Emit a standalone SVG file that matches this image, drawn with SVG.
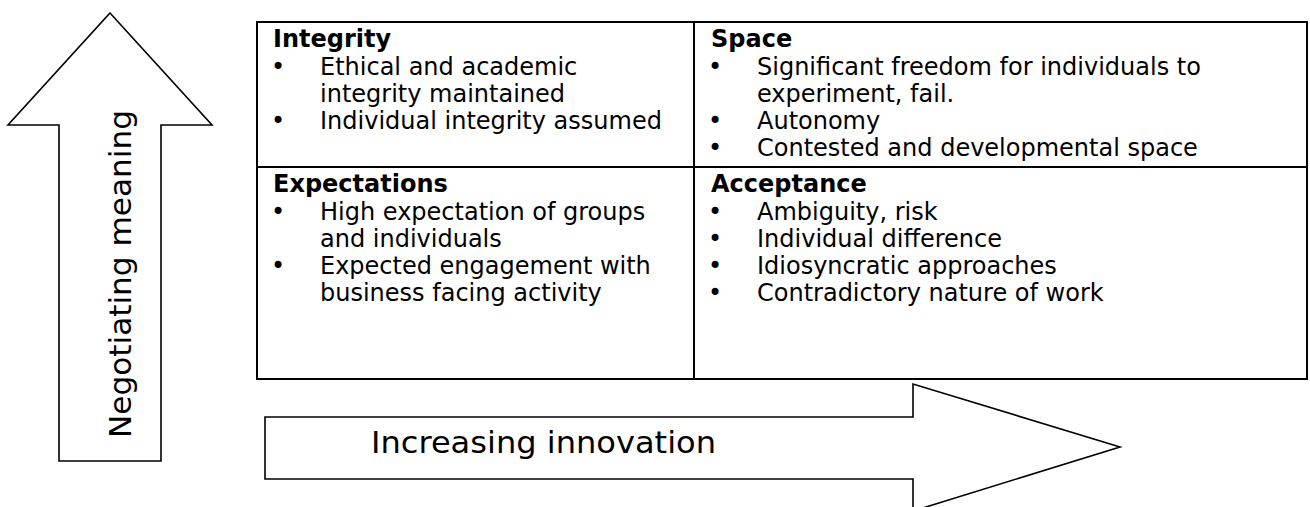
<svg xmlns="http://www.w3.org/2000/svg" width="1310" height="507" viewBox="0 0 1310 507">
<style>
.t{font-family:"DejaVu Sans",Verdana,sans-serif;font-size:24px;fill:#000}
.h{font-weight:bold}
.ar{fill:#fff;stroke:#000;stroke-width:1.6}
.ln{stroke:#000;stroke-width:2;fill:none}
.big{font-family:"DejaVu Sans",Verdana,sans-serif;font-size:31px;fill:#000}
</style>
<rect width="1310" height="507" fill="#fff"/>
<g id="connectors">
<polygon class="ar" points="110,13 212,125 161,125 161,461 59,461 59,125 8,125"/>
<polygon class="ar" points="265,417 913,417 913,384 1120,447 913,511 913,479 265,479"/>
</g>
<g id="axis-y"><text class="big" transform="translate(131,438) rotate(-90)" textLength="328" lengthAdjust="spacingAndGlyphs">Negotiating meaning</text></g>
<g id="axis-x"><text class="big" x="371" y="453" textLength="345" lengthAdjust="spacingAndGlyphs">Increasing innovation</text></g>
<g id="grid">
<rect class="ln" x="257" y="22" width="1050" height="357"/>
<line class="ln" x1="694" y1="22" x2="694" y2="379"/>
<line class="ln" x1="257" y1="167" x2="1307" y2="167"/>
</g>
<g id="integrity">
<text class="t h" x="273" y="47">Integrity</text>
<text class="t" x="271" y="75">•</text><text class="t" x="320" y="75">Ethical and academic</text>
<text class="t" x="320" y="102">integrity maintained</text>
<text class="t" x="271" y="129">•</text><text class="t" x="320" y="129">Individual integrity assumed</text>
</g>
<g id="space">
<text class="t h" x="711" y="47">Space</text>
<text class="t" x="708" y="75">•</text><text class="t" x="757" y="75">Significant freedom for individuals to</text>
<text class="t" x="757" y="102">experiment, fail.</text>
<text class="t" x="708" y="129">•</text><text class="t" x="757" y="129">Autonomy</text>
<text class="t" x="708" y="156">•</text><text class="t" x="757" y="156">Contested and developmental space</text>
</g>
<g id="expectations">
<text class="t h" x="273" y="192">Expectations</text>
<text class="t" x="271" y="220">•</text><text class="t" x="320" y="220">High expectation of groups</text>
<text class="t" x="320" y="247">and individuals</text>
<text class="t" x="271" y="274">•</text><text class="t" x="320" y="274">Expected engagement with</text>
<text class="t" x="320" y="301">business facing activity</text>
</g>
<g id="acceptance">
<text class="t h" x="711" y="192">Acceptance</text>
<text class="t" x="708" y="220">•</text><text class="t" x="757" y="220">Ambiguity, risk</text>
<text class="t" x="708" y="247">•</text><text class="t" x="757" y="247">Individual difference</text>
<text class="t" x="708" y="274">•</text><text class="t" x="757" y="274">Idiosyncratic approaches</text>
<text class="t" x="708" y="301">•</text><text class="t" x="757" y="301">Contradictory nature of work</text>
</g>
</svg>
